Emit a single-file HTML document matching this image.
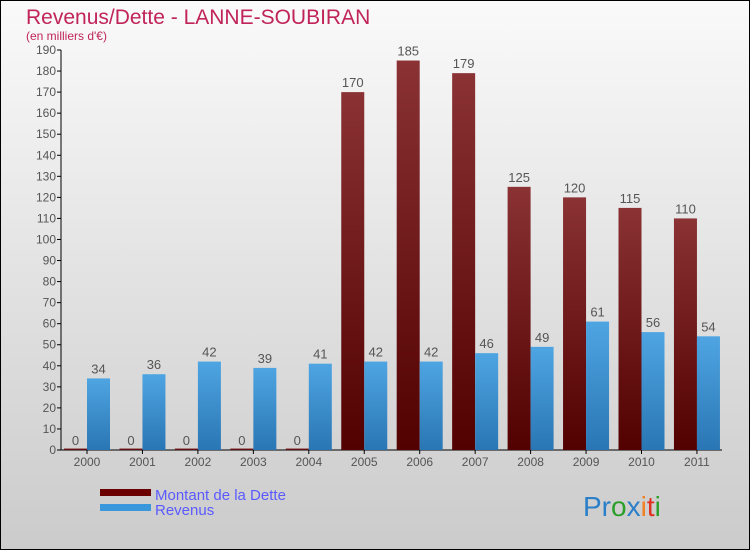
<!DOCTYPE html>
<html><head><meta charset="utf-8"><style>
body{margin:0;}
#c{width:750px;height:550px;position:relative;font-family:"Liberation Sans",sans-serif;}
</style></head><body>
<div id="c">
<svg width="750" height="550" xmlns="http://www.w3.org/2000/svg" id="svg" font-family="Liberation Sans, sans-serif">
<defs>
<linearGradient id="bg" x1="0" y1="0" x2="0" y2="1"><stop offset="0" stop-color="#fafafa"/><stop offset="1" stop-color="#cbcbcb"/></linearGradient>
<linearGradient id="rg" x1="0" y1="0" x2="0" y2="1"><stop offset="0" stop-color="#8a3234"/><stop offset="1" stop-color="#520000"/></linearGradient>
<linearGradient id="bgl" x1="0" y1="0" x2="0" y2="1"><stop offset="0" stop-color="#4ea5e2"/><stop offset="1" stop-color="#2a76b4"/></linearGradient>
</defs>
<rect x="0.5" y="0.5" width="749" height="549" fill="url(#bg)" stroke="#000"/>
<text x="26" y="24" font-size="21" fill="#c0245a">Revenus/Dette - LANNE-SOUBIRAN</text>
<text x="26" y="40" font-size="12" fill="#c0245a">(en milliers d'€)</text>
<g id="axes"></g>
<g id="bars"></g>
<rect x="100" y="489" width="51" height="7" fill="#6b0000"/>
<text x="155" y="500" font-size="15" fill="#5a5aff">Montant de la Dette</text>
<rect x="100" y="504" width="51" height="7" fill="#3a97dc"/>
<text x="155" y="515" font-size="15" fill="#5a5aff">Revenus</text>
<text x="583" y="516" font-size="28"><tspan fill="#2a7fc8">Pr</tspan><tspan fill="#2aa02a">o</tspan><tspan fill="#2a7fc8">x</tspan><tspan fill="#f08020">i</tspan><tspan fill="#e03020">t</tspan><tspan fill="#2aa02a">i</tspan></text>
</svg>
</div>
<script>
const years=["2000","2001","2002","2003","2004","2005","2006","2007","2008","2009","2010","2011"];
const dette=[0,0,0,0,0,170,185,179,125,120,115,110];
const revenus=[34,36,42,39,41,42,42,46,49,61,56,54];
const yTicks=[0,10,20,30,40,50,60,70,80,90,100,110,120,130,140,150,160,170,180,190];
const NS="http://www.w3.org/2000/svg";
const x0=61,x1=722,yb=450,yt=50,ymax=190;
const y=v=>yb-v*(yb-yt)/ymax;
const cx=i=>87+i*55.45;
function mk(t,a,p){const e=document.createElementNS(NS,t);for(const k in a)e.setAttribute(k,a[k]);p.appendChild(e);return e;}
const ax=document.getElementById('axes'),bs=document.getElementById('bars');
yTicks.forEach(v=>{
 const l=mk('line',{x1:x0-4,x2:x0,y1:y(v),y2:y(v),stroke:'#000'},ax);
 
 
 const t=mk('text',{x:x0-5,y:y(v)+4,'font-size':12,'text-anchor':'end',fill:'#555'},ax);
 t.textContent=v;
 
 
});
years.forEach((yr,i)=>{
 const c=cx(i);
 const dh=Math.max(yb-y(dette[i]),1.5);
 const r=mk('rect',{x:c-23,y:yb-dh,width:23,height:dh,fill:'url(#rg)'},bs);
 
 
 const b=mk('rect',{x:c,y:y(revenus[i]),width:23,height:yb-y(revenus[i]),fill:'url(#bgl)'},bs);
 
 
 const t1=mk('text',{x:c-11.5,y:y(dette[i])-5,'font-size':13,'text-anchor':'middle',fill:'#555'},bs);
 t1.textContent=dette[i];
 
 
 const t2=mk('text',{x:c+11.5,y:y(revenus[i])-5,'font-size':13,'text-anchor':'middle',fill:'#555'},bs);
 t2.textContent=revenus[i];
 
 
 const tk=mk('line',{x1:c,x2:c,y1:yb,y2:yb+4,stroke:'#000'},ax);
 
 
 const xl=mk('text',{x:c,y:yb+16,'font-size':12,'text-anchor':'middle',fill:'#555'},ax);
 xl.textContent=yr;
 
 
});
const ya=mk('line',{x1:x0,x2:x0,y1:yt,y2:yb,stroke:'#000'},ax);


const xa=mk('line',{x1:x0,x2:x1,y1:yb,y2:yb,stroke:'#000'},ax);


</script>
</body></html>
